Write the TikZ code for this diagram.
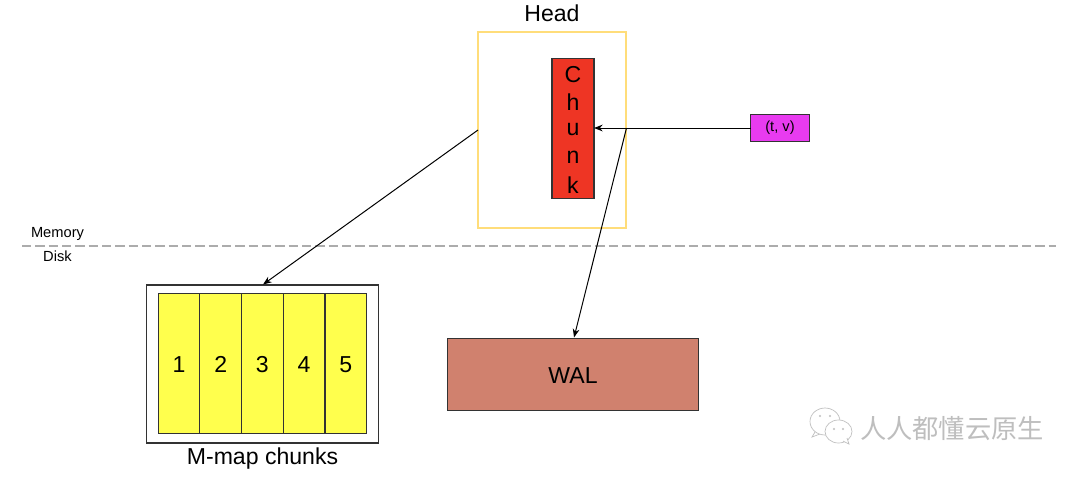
\documentclass[tikz,border=0pt]{standalone}
\usepackage{fontspec}
\setmainfont{Liberation Sans}
\newfontfamily\cjk{Noto Sans CJK SC}
\usetikzlibrary{arrows.meta}
\definecolor{headline}{HTML}{FFDD7A}
\definecolor{chunkred}{HTML}{EE3524}
\definecolor{tvpink}{HTML}{E83BF0}
\definecolor{mapyellow}{HTML}{FFFF4D}
\definecolor{walred}{HTML}{D0816E}
\definecolor{edgegray}{HTML}{333333}
\definecolor{markgray}{HTML}{BEBEBE}
\tikzset{
  x=0.75pt,y=-0.75pt,
  box/.style={draw=edgegray,line width=0.9pt,inner sep=0pt,outer sep=0pt},
  bigtext/.style={inner sep=0pt,font=\fontsize{17.3}{17.3}\selectfont,text=black},
  smalltext/.style={inner sep=0pt,font=\fontsize{11}{11}\selectfont,text=black},
  conn/.style={draw=black,line width=0.75pt,-{Stealth[length=6.5pt,width=5pt]},shorten >=0pt},
  bubble/.style={draw=markgray,fill=white,line width=0.5pt},
}
\begin{document}
\begin{tikzpicture}
\useasboundingbox (0,0) rectangle (1080,476);
\fill[white] (0,0) rectangle (1080,476);
% head
\node[draw=headline,line width=0.8pt,minimum width=111pt,minimum height=147pt,inner sep=0pt,outer sep=0pt] (head) at (552,130) {};
\node[bigtext] (headlabel) at (552,13) {Head};
\node[box,fill=chunkred,minimum width=31.5pt,minimum height=105pt] (chunk) at (573,128.5) {};
\foreach \ch/\yy/\n in {C/75/a,h/102.5/b,u/130/c,n/157.5/d,k/185/e}
  \node[bigtext] (chunk\n) at (573,\yy) {\ch};
\node[box,fill=tvpink,minimum width=44pt,minimum height=20pt,smalltext] (tv) at (780,128) {(t, v)};
% divider
\coordinate (divL) at (22,246);
\coordinate (divR) at (1056,246);
\draw[draw=gray!65,line width=0.8pt,dash pattern=on 7pt off 3pt] (divL) -- (divR);
\node[smalltext] (memory) at (57.5,234) {Memory};
\node[smalltext] (disk) at (57.5,256) {Disk};
% mmap
\node[box,fill=white,minimum width=173.5pt,minimum height=118.5pt] (mmap) at (262.5,364) {};
\foreach \xx/\n in {179/1,220.7/2,262.4/3,304.1/4,345.8/5}
  \node[box,fill=mapyellow,minimum width=31.3pt,minimum height=105.3pt] (m\n) at (\xx,363.5) {};
\foreach \xx/\n in {179/1,220.7/2,262.4/3,304.1/4,345.8/5}
  \node[bigtext,anchor=base] (t\n) at (\xx,372.5) {\n};
\node[bigtext] (mlabel) at (262.5,458.5) {M-map chunks};
% wal
\node[box,fill=walred,minimum width=188pt,minimum height=54.5pt] (wal) at (573,374.5) {};
\node[bigtext] (waltext) at (573,375.5) {WAL};
% connectors
\coordinate (headL) at (478,130);
\coordinate (headR) at (626.5,128);
\coordinate (mmapT) at (263,284.5);
\coordinate (walT) at (574,337.5);
\draw[conn] (tv.west) -- (chunk.east |- tv.west);
\draw[conn] (headR) -- (walT);
\draw[conn] (headL) -- (mmapT);
% watermark
\draw[bubble] (815,432) -- (812,437) -- (820,434);
\draw[bubble] (825,421.5) ellipse (15 and 13.5);
\draw[bubble] (838.5,431.5) ellipse (13.5 and 11.5);
\draw[bubble] (843,441) -- (849,444) -- (847,438);
\foreach \a/\b/\n in {820/416/a,830/416/b,834/429/c,843/429/d}
  \fill[markgray] (\a,\b) circle (1.2);
\node[inner sep=0pt,font=\cjk\fontsize{19.7}{19.7}\selectfont,text=markgray] (mark) at (952,428.5) {人人都懂云原生};
\end{tikzpicture}
\end{document}
